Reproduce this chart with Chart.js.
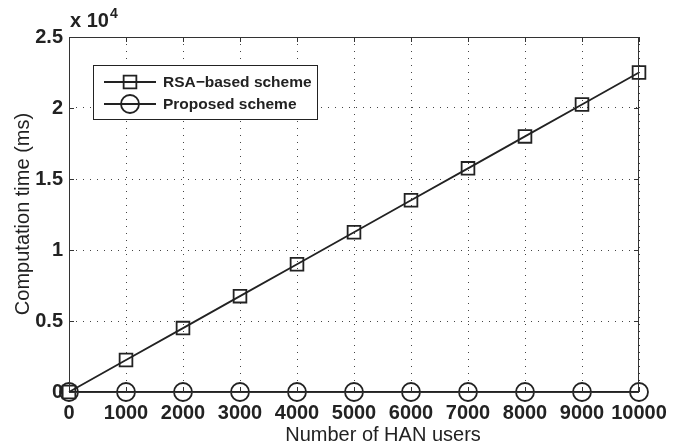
<!DOCTYPE html>
<html>
<head>
<meta charset="utf-8">
<script src="https://cdn.jsdelivr.net/npm/chart.js@4.4.0/dist/chart.umd.min.js"></script>
<style>
  html, body { margin: 0; padding: 0; background: #fff; }
</style>
</head>
<body>
<canvas id="myChart" width="681" height="446"></canvas>
<script>
(() => {
  'use strict'

  // Data
  const users = [0, 1000, 2000, 3000, 4000, 5000, 6000, 7000, 8000, 9000, 10000];
  const rsaTime = [0, 2250, 4500, 6750, 9000, 11250, 13500, 15750, 18000, 20250, 22500];
  const proposedTime = [0, 0, 0, 0, 0, 0, 0, 0, 0, 0, 0];
  const seriesNames = ['RSA\u2212based scheme', 'Proposed scheme'];
  const yTickLabels = ['0', '0.5', '1', '1.5', '2', '2.5'];
  const xTitle = 'Number of HAN users';
  const yTitle = 'Computation time (ms)';
  const yExponent = ['x 10', '4'];

  const ink = '#222';
  const fontFamily = '"Liberation Sans", Arial, Helvetica, sans-serif';

  const toPoints = (xs, ys) => xs.map((x, i) => ({ x: x, y: ys[i] }));

  // inward ticks, box, legend, titles
  const matlabFrame = {
    id: 'matlabFrame',
    afterDraw(chart) {
      const ctx = chart.ctx;
      const a = chart.chartArea;
      const xs = chart.scales.x;
      const ys = chart.scales.y;
      ctx.save();

      // box
      ctx.strokeStyle = '#333';
      ctx.lineWidth = 1;
      ctx.strokeRect(a.left + 0.5, a.top + 0.5, a.right - a.left - 1, a.bottom - a.top);

      // ticks pointing in
      const tl = 5;
      ctx.beginPath();
      xs.ticks.forEach(t => {
        const px = Math.round(xs.getPixelForValue(t.value)) + 0.5;
        ctx.moveTo(px, a.bottom); ctx.lineTo(px, a.bottom - tl);
        ctx.moveTo(px, a.top); ctx.lineTo(px, a.top + tl);
      });
      ys.ticks.forEach(t => {
        const py = Math.round(ys.getPixelForValue(t.value)) + 0.5;
        ctx.moveTo(a.left, py); ctx.lineTo(a.left + tl, py);
        ctx.moveTo(a.right, py); ctx.lineTo(a.right - tl, py);
      });
      ctx.stroke();

      // legend
      const lg = { left: 93, top: 65, width: 224, height: 54 };
      ctx.fillStyle = '#fff';
      ctx.fillRect(lg.left, lg.top, lg.width, lg.height);
      ctx.strokeStyle = ink;
      ctx.lineWidth = 1;
      ctx.strokeRect(lg.left + 0.5, lg.top + 0.5, lg.width, lg.height);
      chart.data.datasets.forEach((ds, i) => {
        const y = 82 + i * 22;
        ctx.strokeStyle = ink;
        ctx.lineWidth = ds.borderWidth;
        ctx.beginPath();
        ctx.moveTo(104, y); ctx.lineTo(156, y);
        ctx.stroke();
        const r = ds.pointRadius;
        ctx.lineWidth = ds.pointBorderWidth;
        ctx.beginPath();
        if (ds.pointStyle === 'rect') {
          const s = r * Math.SQRT1_2;
          ctx.rect(130 - s, y - s, 2 * s, 2 * s);
        } else {
          ctx.arc(130, y, r, 0, Math.PI * 2);
        }
        ctx.stroke();
        ctx.fillStyle = ink;
        ctx.font = 'bold 15.5px ' + fontFamily;
        ctx.textAlign = 'left';
        ctx.textBaseline = 'middle';
        ctx.fillText(ds.label, 163, y + 1);
      });

      // axis titles
      ctx.fillStyle = ink;
      ctx.font = '20px ' + fontFamily;
      ctx.textAlign = 'center';
      ctx.textBaseline = 'alphabetic';
      ctx.fillText(xTitle, 383, 441);
      ctx.save();
      ctx.translate(29, 214);
      ctx.rotate(-Math.PI / 2);
      ctx.fillText(yTitle, 0, 0);
      ctx.restore();

      // exponent label
      ctx.textAlign = 'left';
      ctx.font = 'bold 20px ' + fontFamily;
      ctx.fillText(yExponent[0], 70, 27);
      const w = ctx.measureText(yExponent[0]).width;
      ctx.font = 'bold 14px ' + fontFamily;
      ctx.fillText(yExponent[1], 70 + w + 1, 18);

      ctx.restore();
    }
  };

  const ctx = document.getElementById('myChart');
  new Chart(ctx, {
    type: 'scatter',
    data: {
      datasets: [{
        label: seriesNames[0],
        data: toPoints(users, rsaTime),
        showLine: true,
        borderColor: ink,
        borderWidth: 1.8,
        pointStyle: 'rect',
        pointRadius: 9,
        pointBorderWidth: 1.8,
        pointBorderColor: ink,
        pointBackgroundColor: 'rgba(0,0,0,0)',
        clip: false
      }, {
        label: seriesNames[1],
        data: toPoints(users, proposedTime),
        showLine: true,
        borderColor: ink,
        borderWidth: 1.8,
        pointStyle: 'circle',
        pointRadius: 9,
        pointBorderWidth: 1.8,
        pointBorderColor: ink,
        pointBackgroundColor: 'rgba(0,0,0,0)',
        clip: false
      }]
    },
    options: {
      responsive: false,
      animation: false,
      layout: { padding: { top: 37, right: 42, left: 0, bottom: 0 } },
      plugins: {
        legend: { display: false },
        tooltip: { enabled: false }
      },
      scales: {
        x: {
          type: 'linear',
          min: 0,
          max: 10000,
          afterFit(scale) { scale.height = 54; },
          afterBuildTicks(scale) { scale.ticks = users.map(v => ({ value: v })); },
          grid: { color: '#444', lineWidth: 1, drawTicks: false },
          border: { display: false, dash: [1, 6] },
          ticks: {
            padding: 9,
            color: ink,
            maxRotation: 0,
            autoSkip: false,
            font: { family: fontFamily, size: 20, weight: 'bold' },
            callback: v => String(v)
          }
        },
        y: {
          type: 'linear',
          min: 0,
          max: 25000,
          afterFit(scale) { scale.width = 69; },
          grid: { color: '#444', lineWidth: 1, drawTicks: false },
          border: { display: false, dash: [1, 6] },
          ticks: {
            stepSize: 5000,
            padding: 6,
            color: ink,
            font: { family: fontFamily, size: 20, weight: 'bold' },
            callback: (v, i) => yTickLabels[i]
          }
        }
      }
    },
    plugins: [matlabFrame]
  })
})()
</script>
</body>
</html>
